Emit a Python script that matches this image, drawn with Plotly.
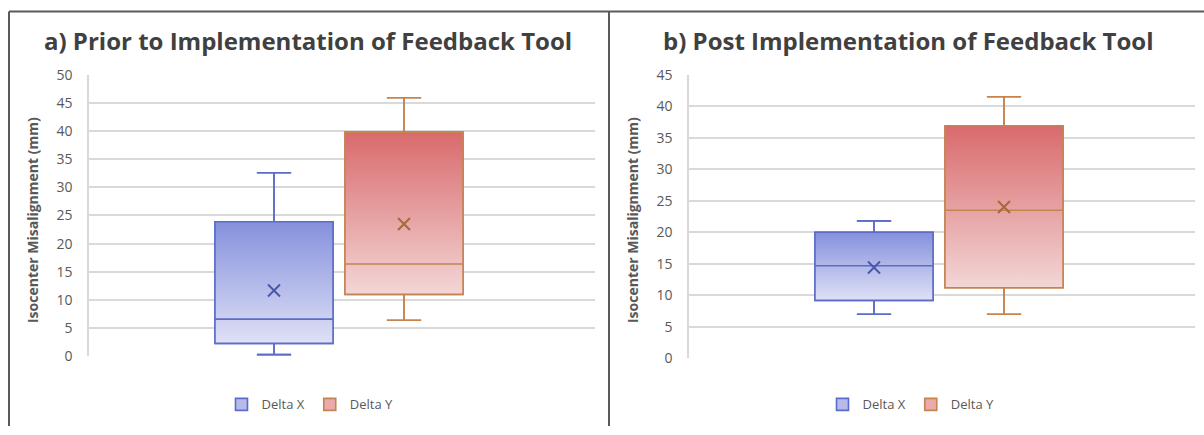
import plotly.graph_objects as go

# ---------------- data ----------------
series = ["Delta X", "Delta Y"]
positions = [0, 1]

a_lower = [0.3, 6.4]
a_q1 = [2.3, 11.0]
a_median = [6.6, 16.4]
a_q3 = [23.9, 39.8]
a_upper = [32.6, 45.9]
a_mean = [11.7, 23.5]

b_lower = [7.0, 7.0]
b_q1 = [9.2, 11.2]
b_median = [14.7, 23.5]
b_q3 = [20.0, 36.9]
b_upper = [21.8, 41.5]
b_mean = [14.4, 24.0]

titles = ["a) Prior to Implementation of Feedback Tool",
          "b) Post Implementation of Feedback Tool"]
y_title = "Isocenter Misalignment (mm)"

# ---------------- styles ----------------
W, H = 1204, 435
# vertical calibration (target picture y -> figure y)
VS, VOFF = 0.954, 10.5


def px(x):
    return x / W


def py(y):
    yf = (y - VOFF) / VS
    return min(1.0, max(0.0, 1 - yf / H))


FONT = "Open Sans"
line_colors = ["#5d6cc6", "#c58350"]
mean_colors = ["#4a57a8", "#a8683a"]
grad_top = ["#8590dc", "#d96a6c"]
grad_bot = ["#dfe1f6", "#f3d6d6"]
legend_fill = ["#b5bbeb", "#eaa9aa"]
box_w = 0.908
xr = [-1.423, 2.469]

fig = go.Figure()

panels = [
    dict(lower=a_lower, q1=a_q1, med=a_median, q3=a_q3, up=a_upper, mean=a_mean,
         base=("x", "y"), over=("x3", "y3"), legend="legend"),
    dict(lower=b_lower, q1=b_q1, med=b_median, q3=b_q3, up=b_upper, mean=b_mean,
         base=("x2", "y2"), over=("x4", "y4"), legend="legend2"),
]

for p in panels:
    for i, name in enumerate(series):
        x0 = positions[i]
        box_kw = dict(
            x=[x0], q1=[p["q1"][i]], median=[p["med"][i]], q3=[p["q3"][i]],
            lowerfence=[p["lower"][i]], upperfence=[p["up"][i]],
            width=box_w, whiskerwidth=0.29, boxpoints=False,
            line=dict(color=line_colors[i], width=1.6), name=name,
        )
        # base box (gives legend symbol + whiskers)
        fig.add_trace(go.Box(**box_kw, fillcolor=legend_fill[i],
                             xaxis=p["base"][0], yaxis=p["base"][1],
                             legend=p["legend"], showlegend=True,
                             hoverinfo="skip"))
        # gradient fill of the box
        xl, xrr = x0 - box_w / 2, x0 + box_w / 2
        fig.add_trace(go.Scatter(
            x=[xl, xrr, xrr, xl, xl],
            y=[p["q1"][i], p["q1"][i], p["q3"][i], p["q3"][i], p["q1"][i]],
            mode="lines", fill="toself", line=dict(width=0),
            fillgradient=dict(type="vertical",
                              colorscale=[[0, grad_bot[i]], [1, grad_top[i]]]),
            xaxis=p["base"][0], yaxis=p["base"][1],
            showlegend=False, hoverinfo="skip"))
        # outline + median on top of the gradient
        fig.add_trace(go.Box(**box_kw, fillcolor="rgba(0,0,0,0)",
                             xaxis=p["over"][0], yaxis=p["over"][1],
                             showlegend=False))
        # mean marker
        fig.add_trace(go.Scatter(
            x=[x0], y=[p["mean"][i]], mode="markers",
            marker=dict(symbol="x-thin", size=12,
                        line=dict(color=mean_colors[i], width=2)),
            xaxis=p["over"][0], yaxis=p["over"][1],
            showlegend=False, name=name + " mean"))

grid = "#d9d9d9"
tickfont = dict(family=FONT, size=14, color="#595959")

hidden_x = dict(range=xr, showgrid=False, showticklabels=False,
                zeroline=False, showline=False, ticks="")

legend_common = dict(orientation="h", xanchor="center", yanchor="middle",
                     font=dict(family=FONT, size=13, color="#595959"),
                     bgcolor="rgba(0,0,0,0)", itemwidth=30)

fig.update_layout(
    width=W, height=H,
    margin=dict(l=0, r=0, t=0, b=0),
    paper_bgcolor="white", plot_bgcolor="white",
    font=dict(family=FONT, color="#595959"),
    boxmode="overlay",
    xaxis=dict(domain=[px(89), px(595)], anchor="y", **hidden_x),
    yaxis=dict(domain=[py(356), py(75)], anchor="x", range=[0, 50], dtick=5,
               showgrid=True, gridcolor=grid, gridwidth=1.5,
               showline=True, linecolor=grid, linewidth=1.5,
               zeroline=False, ticks="", ticklabelstandoff=12,
               tickfont=tickfont),
    xaxis3=dict(overlaying="x", anchor="y3", **hidden_x),
    yaxis3=dict(overlaying="y", anchor="x3", range=[0, 50], visible=False),
    xaxis2=dict(domain=[px(689), px(1195)], anchor="y2", **hidden_x),
    yaxis2=dict(domain=[py(358), py(75)], anchor="x2", range=[0, 45], dtick=5,
                showgrid=True, gridcolor=grid, gridwidth=1.5,
                showline=True, linecolor=grid, linewidth=1.5,
                zeroline=False, ticks="", ticklabelstandoff=12,
                tickfont=tickfont),
    xaxis4=dict(overlaying="x2", anchor="y4", **hidden_x),
    yaxis4=dict(overlaying="y2", anchor="x4", range=[0, 45], visible=False),
    legend=dict(x=px(310), y=py(404), **legend_common),
    legend2=dict(x=px(911), y=py(404), **legend_common),
)

# titles
for t, cx in zip(titles, [308, 908]):
    fig.add_annotation(text="<b>%s</b>" % t, xref="paper", yref="paper",
                       x=px(cx), y=py(41), showarrow=False,
                       xanchor="center", yanchor="middle",
                       font=dict(family=FONT, size=24, color="#404040"))

# y-axis titles
for cx in [32, 632]:
    fig.add_annotation(text="<b>%s</b>" % y_title, xref="paper", yref="paper",
                       x=px(cx), y=py(220), showarrow=False, textangle=-90,
                       xanchor="center", yanchor="middle",
                       font=dict(family=FONT, size=14, color="#595959"))

# panel frames
frame = dict(color="#5a5a5a", width=2)
top_y = 1 - 1.5 / H
fig.add_shape(type="line", xref="paper", yref="paper",
              x0=px(9), x1=1, y0=top_y, y1=top_y, line=frame)
fig.add_shape(type="line", xref="paper", yref="paper",
              x0=px(9), x1=px(9), y0=0, y1=top_y, line=frame)
fig.add_shape(type="line", xref="paper", yref="paper",
              x0=px(609), x1=px(609), y0=0, y1=top_y, line=frame)

# remove the default page margin so the figure fills the window exactly
page_js = ("document.documentElement.style.margin='0';"
           "document.documentElement.style.overflow='hidden';"
           "document.body.style.margin='0';"
           "document.body.style.overflow='hidden';")

fig.write_html("out.html", post_script=page_js,
               config={"displayModeBar": False})
